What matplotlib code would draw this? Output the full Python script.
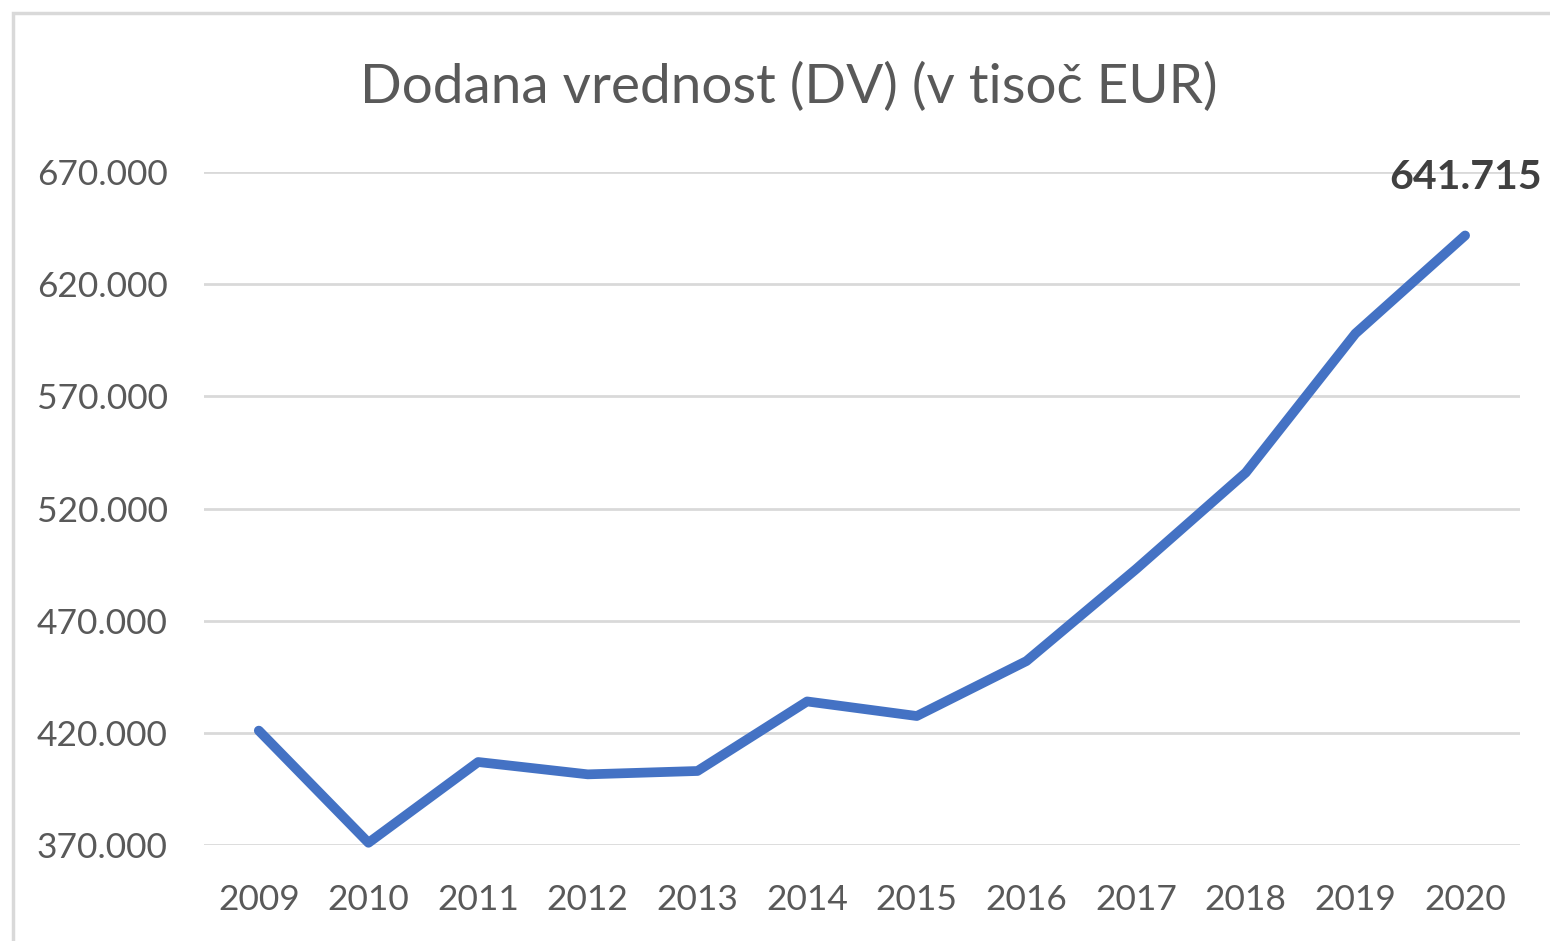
import matplotlib.pyplot as plt
from matplotlib.patches import Rectangle
from matplotlib.ticker import FuncFormatter

plt.rcParams['font.family'] = ['Lato', 'DejaVu Sans']

# data (thousand EUR)
years = ["2009", "2010", "2011", "2012", "2013", "2014",
         "2015", "2016", "2017", "2018", "2019", "2020"]
added_value = [421000, 371000, 407000, 401500, 403000, 434000,
               427500, 452000, 493000, 536000, 598000, 641715]
y_ticks = [370000, 420000, 470000, 520000, 570000, 620000, 670000]
title = "Dodana vrednost (DV) (v tisoč EUR)"

fig = plt.figure(figsize=(15.5, 9.41), dpi=100)
ax = fig.add_axes([0.1316, 0.1020, 0.9806 - 0.1316, 0.8172 - 0.1020])

# outer chart frame (cut off at right and bottom, like the screenshot)
fig.patches.append(Rectangle((13 / 1550, -0.05), 1.2, 1 - 13 / 941 + 0.05,
                             transform=fig.transFigure, fill=False,
                             edgecolor="#D9D9D9", linewidth=2.5))

x = range(len(years))
ax.plot(x, added_value, color="#4472C4", linewidth=7,
        solid_capstyle="round", solid_joinstyle="round", clip_on=False, zorder=3)

ax.annotate(f"{added_value[-1]:,}".replace(",", "."), (x[-1], added_value[-1]),
            xytext=(0, 42), textcoords="offset points", ha="center", va="center",
            fontsize=29.5, fontweight="bold", color="#404040", annotation_clip=False)

ax.set_xlim(-0.5, len(years) - 0.5)
ax.set_ylim(y_ticks[0], y_ticks[-1])
ax.set_yticks(y_ticks)
ax.yaxis.set_major_formatter(FuncFormatter(lambda v, p: f"{int(v):,}".replace(",", ".")))
ax.set_xticks(list(x))
ax.set_xticklabels(years)

ax.grid(axis="y", color="#D9D9D9", linewidth=2)
ax.set_axisbelow(True)
for s in ax.spines.values():
    s.set_visible(False)
ax.tick_params(axis="both", length=0, labelsize=25.5, labelcolor="#595959")
ax.tick_params(axis="y", pad=26)
ax.tick_params(axis="x", pad=28)

fig.text(0.509, 0.9075, title, ha="center", va="center", fontsize=39.5, color="#595959")

fig.savefig("out.png", dpi=100)
